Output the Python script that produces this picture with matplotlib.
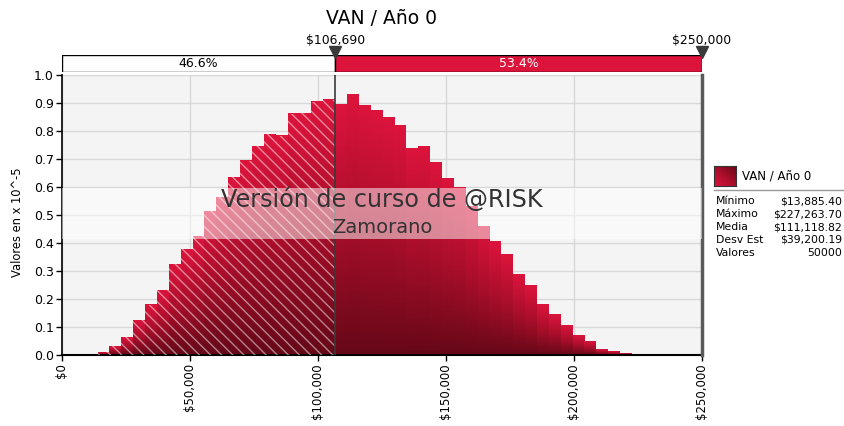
import numpy as np
import matplotlib.pyplot as plt
from matplotlib.colors import LinearSegmentedColormap
from matplotlib.patches import Rectangle
from matplotlib.lines import Line2D

# Datos del histograma (densidad en x 10^-5), 46 clases entre el mínimo y el máximo
x_min = 13885.40
x_max = 227263.70
n_bins = 46
densidad = [0.010, 0.032, 0.063, 0.125, 0.179, 0.232, 0.325, 0.377, 0.425, 0.514,
            0.563, 0.634, 0.693, 0.746, 0.789, 0.783, 0.861, 0.863, 0.904, 0.911,
            0.896, 0.929, 0.890, 0.873, 0.848, 0.819, 0.736, 0.746, 0.687, 0.629,
            0.600, 0.530, 0.460, 0.404, 0.358, 0.286, 0.250, 0.179, 0.146, 0.107,
            0.071, 0.050, 0.021, 0.011, 0.007, 0.002]

# Delimitadores y porcentajes
corte = 106690
limite = 250000
pct_izq = "46.6%"
pct_der = "53.4%"

# Estadísticas de la leyenda
stats_nombres = ["Mínimo", "Máximo", "Media", "Desv Est", "Valores"]
stats_valores = ["$13,885.40", "$227,263.70", "$111,118.82", "$39,200.19", "50000"]

x_ticks = [0, 50000, 100000, 150000, 200000, 250000]
x_labels = ["$0", "$50,000", "$100,000", "$150,000", "$200,000", "$250,000"]
y_ticks = [0.0, 0.1, 0.2, 0.3, 0.4, 0.5, 0.6, 0.7, 0.8, 0.9, 1.0]

titulo = "VAN / Año 0"

plt.rcParams['font.family'] = 'DejaVu Sans'
plt.rcParams['hatch.linewidth'] = 1.0

rojo = '#dc143c'
cmap = LinearSegmentedColormap.from_list('rojo', ['#660818', '#a80e2a', '#dc143c'])

W, H = 845, 426
fig = plt.figure(figsize=(W / 100, H / 100), dpi=100)

# Gráfico principal
ax = fig.add_axes([62 / W, 71 / H, 640 / W, 280 / H])
ax.set_facecolor('#f4f4f4')

bordes = np.linspace(x_min, x_max, n_bins + 1)
ancho = bordes[1] - bordes[0]
centros = bordes[:-1] + ancho / 2
grad = np.linspace(0, 1, 64).reshape(-1, 1)
for i, h in enumerate(densidad):
    ax.imshow(grad, extent=[bordes[i], bordes[i + 1], 0, h], origin='lower',
              aspect='auto', cmap=cmap, interpolation='bilinear', zorder=2)

# Rayado en las clases a la izquierda del delimitador
izq = centros < corte
ax.bar(bordes[:-1][izq], np.array(densidad)[izq], width=ancho, align='edge',
       facecolor='none', edgecolor=(1, 1, 1, 0.5), linewidth=0,
       hatch='\\\\\\', zorder=3)

ax.axvline(corte, color='#3a3a3a', lw=1.2, zorder=4)
ax.axvline(limite, color='#5a5a5a', lw=2.5, zorder=4, clip_on=False)

# Marca de agua
ax.axhspan(0.414, 0.598, facecolor='white', alpha=0.5, lw=0, zorder=4)
ax.text(125000, 0.553, "Versión de curso de @RISK", ha='center', va='center',
        fontsize=17.2, color='#333333', zorder=5)
ax.text(125000, 0.455, "Zamorano", ha='center', va='center',
        fontsize=14, color='#333333', zorder=5)

ax.set_xlim(0, 250000)
ax.set_ylim(0, 1.0)
ax.set_xticks(x_ticks)
ax.set_xticklabels(x_labels, rotation=90, fontsize=8.5)
ax.set_yticks(y_ticks)
ax.set_yticklabels([f"{v:.1f}" for v in y_ticks], fontsize=9)
ax.grid(True, color='#d8d8d8', lw=1)
ax.set_axisbelow(True)
ax.spines['top'].set_visible(False)
ax.spines['right'].set_visible(False)
ax.spines['left'].set_linewidth(1.2)
ax.spines['bottom'].set_linewidth(1.5)
ax.tick_params(direction='out', length=4, width=1, colors='black', pad=2)

# Barra de porcentajes superior
ax_top = fig.add_axes([62 / W, (H - 72) / H, 640 / W, 17 / H])
ax_top.set_xlim(0, 250000)
ax_top.set_ylim(0, 1)
ax_top.axis('off')
ax_top.add_patch(Rectangle((0, 0), corte, 1, facecolor='white', edgecolor='black', lw=1))
ax_top.add_patch(Rectangle((corte, 0), limite - corte, 1, facecolor=rojo, edgecolor='black', lw=1))
ax_top.text(corte / 2, 0.5, pct_izq, ha='center', va='center', fontsize=9,
            color='black')
ax_top.text((corte + limite) / 2, 0.5, pct_der, ha='center', va='center', fontsize=9,
            color='white')
ax_top.plot([corte, limite], [1.15, 1.15], ls='none', marker='v', ms=8,
            color='#3a3a3a', clip_on=False)
for v in [corte, limite]:
    ax_top.text(v, 1.85, f"${v:,}", ha='center', va='center', fontsize=8.9,
                clip_on=False)

fig.text(382 / W, 1 - 18 / H, titulo, ha='center', va='center', fontsize=13.5)
fig.text(18 / W, 1 - 222 / H, "Valores en x 10^-5", rotation=90, ha='center',
         va='center', fontsize=8.3)

# Leyenda
ax_leg = fig.add_axes([714 / W, (H - 186) / H, 22 / W, 20 / H])
diag = np.add.outer(np.linspace(1, 0, 20), np.linspace(0, 1, 20)) / 2
ax_leg.imshow(1 - diag, cmap=cmap, aspect='auto', origin='upper')
ax_leg.set_xticks([])
ax_leg.set_yticks([])
for s in ax_leg.spines.values():
    s.set_color('#333333')
fig.text(742 / W, 1 - 176 / H, titulo, ha='left', va='center', fontsize=8.5)
fig.add_artist(Line2D([714 / W, 1.0], [1 - 189.5 / H] * 2, color='#999999', lw=1))
for i, (n, v) in enumerate(zip(stats_nombres, stats_valores)):
    y = 1 - (201 + 13 * i) / H
    fig.text(716 / W, y, n, ha='left', va='center', fontsize=7.8)
    fig.text(842 / W, y, v, ha='right', va='center', fontsize=7.8)

fig.savefig('out.png', dpi=100)
